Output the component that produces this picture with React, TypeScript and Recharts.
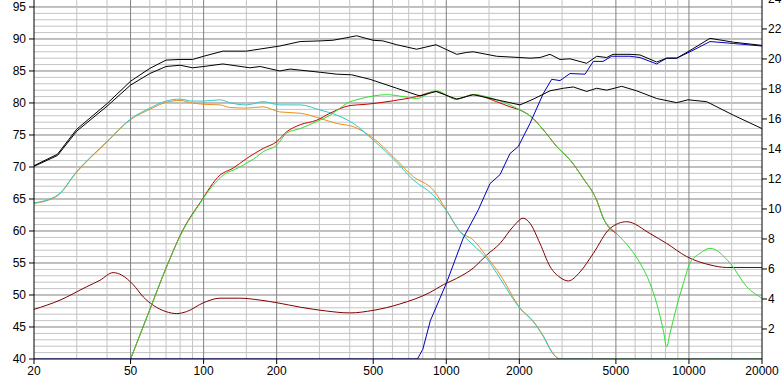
import { Line, LineChart, ReferenceLine, XAxis, YAxis } from 'recharts';

// x ticks and grid (log frequency axis)
const xTicks = [20, 50, 100, 200, 500, 1000, 2000, 5000, 10000, 20000];
const xMajorGrid = [50, 100, 200, 500, 1000, 2000, 5000, 10000];
const xMinorGrid = [30, 40, 60, 70, 80, 90, 150, 300, 400, 600, 700, 800, 900, 1500, 3000, 4000, 6000, 7000, 8000, 9000, 15000];
const yTicks = [40, 45, 50, 55, 60, 65, 70, 75, 80, 85, 90, 95];
const yRightTicks = [2, 4, 6, 8, 10, 12, 14, 16, 18, 20, 22, 24];

// series
const black1F = [20, 25, 30, 40, 50, 60, 70, 80, 90, 100, 120, 150, 206, 250, 302, 341, 389, 427, 499, 548, 625, 755, 907, 1104, 1214, 1291, 1613, 2012, 2213, 2433, 2676, 2942, 3235, 3790, 4168, 4582, 4864, 5716, 6285, 7362, 8096, 8902, 10100, 12212, 15232, 20000];
const black1V = [70.2, 72.0, 75.9, 79.9, 83.4, 85.4, 86.7, 86.8, 86.8, 87.3, 88.1, 88.1, 88.9, 89.6, 89.7, 89.8, 90.2, 90.5, 89.8, 89.7, 89.1, 88.4, 89.1, 87.6, 87.9, 88.0, 87.3, 87.1, 87.0, 87.1, 87.6, 86.8, 86.9, 86.2, 87.3, 87.1, 87.6, 87.6, 87.5, 86.4, 87.0, 87.0, 88.2, 90.1, 89.5, 89.0];

const black2F = [20, 25, 30, 40, 50, 60, 70, 80, 90, 100, 120, 155, 171, 206, 227, 302, 354, 408, 485, 625, 709, 779, 907, 1104, 1291, 1613, 2012, 2284, 2676, 3036, 3338, 3790, 4168, 4582, 5284, 6090, 7362, 8902, 9910, 11832, 15232, 20000];
const black2V = [70.1, 71.8, 75.6, 79.5, 82.8, 84.6, 85.7, 85.9, 85.5, 85.7, 86.1, 85.5, 85.7, 85.0, 85.3, 84.8, 84.5, 84.4, 83.7, 82.3, 81.6, 81.1, 81.8, 80.6, 81.3, 80.5, 79.7, 80.6, 81.9, 82.3, 82.5, 81.8, 82.3, 82.0, 82.6, 81.9, 80.7, 80.05, 80.5, 80.2, 78.1, 76.0];

const lowF = [20, 25, 30, 40, 50, 60, 70, 80, 90, 100, 117, 128, 150, 176, 206, 250, 302, 354, 414, 500, 605, 731, 884, 1000, 1139, 1291, 1468, 1665, 2012, 2284, 2512, 2719, 2942, 20000];
const cyanV = [64.4, 65.6, 69.3, 74.0, 77.5, 79.2, 80.3, 80.6, 80.3, 80.3, 80.5, 80.05, 79.7, 80.2, 79.7, 79.7, 78.9, 78.1, 76.8, 74.2, 71.3, 68.0, 65.6, 63.2, 59.9, 57.8, 55.7, 52.6, 47.9, 45.8, 43.5, 41.1, 40, 40];
const orangeV = [64.3, 65.5, 69.2, 73.9, 77.4, 79.0, 80.1, 80.4, 80.0, 79.8, 79.7, 79.3, 79.2, 79.4, 78.6, 78.4, 77.6, 76.8, 76.3, 74.5, 71.6, 68.5, 66.4, 63.3, 59.9, 58.6, 56.0, 53.2, 48.0, 45.9, 43.6, 41.2, 40, 40];

const greenF = [50, 60, 70, 82.5, 96.6, 103, 113, 124.5, 132.5, 145.7, 165.5, 176, 200, 220, 250, 292, 332, 365, 401, 427, 500, 568, 665, 755, 907, 1104, 1291, 1613, 1830, 2012, 2213, 2512, 2851, 3235, 3670, 4168, 4437, 5038, 5716, 6285, 6910, 7362, 7838, 8096, 8354, 8902, 9480, 10100, 11106, 12212, 14760, 17300, 20000];
const greenV = [40, 47.7, 54.2, 60.2, 64.3, 65.9, 67.7, 69.1, 69.5, 70.3, 71.6, 72.4, 73.4, 75.3, 76.0, 77.1, 78.1, 79.2, 80.2, 80.5, 81.1, 81.3, 81.0, 80.7, 81.9, 80.6, 81.3, 80.5, 79.7, 78.9, 78.0, 75.8, 73.2, 71.1, 68.2, 64.8, 62.0, 59.6, 57.3, 55.0, 51.8, 48.7, 44.5, 41.9, 44.0, 48.2, 51.8, 55.0, 56.5, 57.3, 55.0, 51.3, 49.5];

const redF = [50, 60, 70, 82.5, 96.6, 117, 132, 150, 176, 200, 220, 250, 292, 332, 401, 470, 605, 755, 907, 1104, 1291, 1613, 1830, 2012, 2213, 2512, 2851, 3235, 3670, 4168, 4437, 5038];
const redV = [40, 47.7, 54.2, 60.3, 64.4, 68.75, 69.8, 71.3, 72.9, 73.95, 75.5, 76.6, 77.3, 78.4, 79.6, 79.8, 80.35, 81.0, 81.8, 80.6, 81.3, 80.2, 79.4, 78.9, 78.0, 75.8, 73.2, 71.1, 68.2, 64.8, 62.0, 59.6];

const blueF = [20, 760, 800, 860, 1000, 1175, 1355, 1514, 1665, 1830, 1980, 2213, 2512, 2719, 2942, 3235, 3730, 4035, 4424, 4806, 5716, 6285, 7362, 8096, 8902, 10100, 12212, 15232, 20000];
const blueV = [40, 40, 41.5, 46, 51.8, 58.9, 63.3, 67.4, 68.8, 72.1, 73.2, 76.8, 81.5, 83.7, 83.5, 84.6, 84.5, 86.5, 86.5, 87.3, 87.3, 87.1, 86.1, 87.0, 87.0, 88.0, 89.6, 89.3, 88.9];

const maroonF = [20, 25.6, 33, 37.4, 42.4, 46, 51.3, 56.4, 62, 70, 77.5, 85, 100, 117, 141, 171, 200, 250, 320, 400, 500, 644, 857, 972, 1104, 1291, 1468, 1665, 1888, 2076, 2213, 2433, 2676, 2942, 3182, 3557, 4035, 4728, 5540, 6910, 8096, 9788, 12212, 14306, 20000];
const maroonV = [47.75, 49.2, 51.3, 52.3, 53.5, 53.1, 51.6, 49.7, 48.4, 47.4, 47.1, 47.4, 48.8, 49.5, 49.5, 49.2, 48.8, 48.1, 47.5, 47.2, 47.6, 48.6, 50.4, 51.6, 52.6, 54.2, 56.25, 58.05, 60.7, 62.0, 61.2, 58.05, 54.45, 52.75, 52.2, 53.6, 56.5, 60.4, 61.45, 59.6, 58.05, 56.0, 54.7, 54.3, 54.3];

const pts = (f: number[], v: number[]) => f.map((x, i) => ({ f: x, v: v[i] }));

const yMinorGrid: number[] = [];
for (let d = 41; d <= 95; d++) if (d % 5 !== 0) yMinorGrid.push(d);

const font = { fontSize: 12, fill: '#000', fontFamily: 'Liberation Sans, Arial, sans-serif' };
const MINOR = '#c4c4c4';
const MAJOR = '#808080';

export default function App() {
  const series = [
    { key: 'maroon', data: pts(maroonF, maroonV), color: '#800000', type: 'monotone' },
    { key: 'orange', data: pts(lowF, orangeV), color: '#e8901e', type: 'monotone' },
    { key: 'cyan', data: pts(lowF, cyanV), color: '#33c8c8', type: 'monotone' },
    { key: 'red', data: pts(redF, redV), color: '#cc0000', type: 'monotone' },
    { key: 'green', data: pts(greenF, greenV), color: '#33dd33', type: 'monotone' },
    { key: 'blue', data: pts(blueF, blueV), color: '#0000c0', type: 'linear' },
    { key: 'black2', data: pts(black2F, black2V), color: '#000000', type: 'linear' },
    { key: 'black1', data: pts(black1F, black1V), color: '#000000', type: 'linear' },
  ] as const;

  return (
    <div style={{ position: 'absolute', left: 0, top: 0, background: '#fff' }}>
      <LineChart width={783} height={381} margin={{ top: 0, right: 0, bottom: 0, left: 0 }}>
        <XAxis
          dataKey="f"
          type="number"
          scale="log"
          domain={[20, 20000]}
          allowDataOverflow
          ticks={xTicks}
          interval={0}
          height={22}
          tickSize={5}
          tickMargin={2}
          tick={font}
          axisLine={{ stroke: '#000' }}
          tickLine={{ stroke: '#000' }}
        />
        <YAxis
          yAxisId="left"
          type="number"
          domain={[40, 96.09]}
          allowDataOverflow
          ticks={yTicks}
          interval={0}
          width={34}
          tickSize={5}
          tickMargin={3}
          tick={font}
          axisLine={{ stroke: '#000' }}
          tickLine={{ stroke: '#000' }}
        />
        <YAxis
          yAxisId="right"
          orientation="right"
          type="number"
          domain={[0, 23.93]}
          allowDataOverflow
          ticks={yRightTicks}
          interval={0}
          width={21}
          tickSize={5}
          tickMargin={1}
          tick={font}
          axisLine={{ stroke: '#000' }}
          tickLine={{ stroke: '#000' }}
        />
        {yMinorGrid.map((d) => (
          <ReferenceLine key={'hy' + d} yAxisId="left" y={d} stroke={d % 5 === 0 ? MAJOR : MINOR} strokeWidth={1} />
        ))}
        {[45, 50, 55, 60, 65, 70, 75, 80, 85, 90, 95].map((d) => (
          <ReferenceLine key={'hY' + d} yAxisId="left" y={d} stroke={MAJOR} strokeWidth={1} />
        ))}
        {xMinorGrid.map((f) => (
          <ReferenceLine key={'vx' + f} yAxisId="left" x={f} stroke={MINOR} strokeWidth={1} />
        ))}
        {xMajorGrid.map((f) => (
          <ReferenceLine key={'vX' + f} yAxisId="left" x={f} stroke={MAJOR} strokeWidth={1} />
        ))}
        {series.map((s) => (
          <Line
            key={s.key}
            yAxisId="left"
            data={s.data}
            dataKey="v"
            type={s.type}
            stroke={s.color}
            strokeWidth={1}
            dot={false}
            activeDot={false}
            isAnimationActive={false}
          />
        ))}
      </LineChart>
    </div>
  );
}
